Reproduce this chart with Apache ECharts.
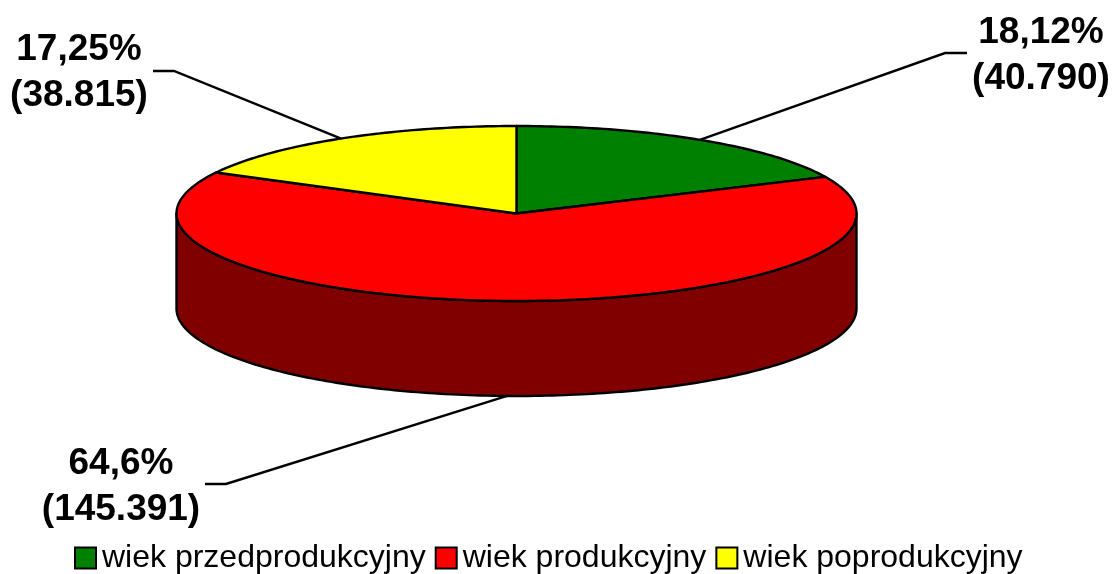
<!DOCTYPE html>
<html>
<head>
<meta charset="utf-8">
<title>wiek</title>
<script src="https://cdn.jsdelivr.net/npm/echarts@6/dist/echarts.min.js"></script>
<style>
  html, body { margin: 0; padding: 0; background: #fff; }
  #chart { width: 1120px; height: 574px; }
</style>
</head>
<body>
<div id="chart"></div>
<script>
// dane
const categories = ['wiek przedprodukcyjny', 'wiek produkcyjny', 'wiek poprodukcyjny'];
const values = [40790, 145391, 38815];
const percentLabels = ['18,12%', '64,6%', '17,25%'];
const countLabels = ['(40.790)', '(145.391)', '(38.815)'];
const colors = ['#008000', '#ff0000', '#ffff00'];
const wallColors = ['#004000', '#800000', '#808000'];

// geometria "3D" - elipsa i wysokosc walca
const cx = 516.5, cy = 213.5, rx = 340, ry = 87.5, depth = 95;
// lamane opisow: kolanko, koniec linii, srodek tekstu
const leaders = [
  { elbow: [945, 53], end: [967, 53], text: [1041, 56] },
  { elbow: [226, 484], end: [205, 484], text: [121, 487] },
  { elbow: [174, 71], end: [153, 71], text: [79, 73] }
];

const total = values.reduce((a, b) => a + b, 0);

// kat liczony od godziny 12, zgodnie z ruchem wskazowek
function rim(deg, dy) {
  const r = deg * Math.PI / 180;
  return [cx + rx * Math.sin(r), cy - ry * Math.cos(r) + (dy || 0)];
}

function arc(from, to, dy) {
  const pts = [];
  const n = Math.max(2, Math.ceil(Math.abs(to - from)));
  for (let i = 0; i <= n; i++) {
    pts.push(rim(from + (to - from) * i / n, dy));
  }
  return pts;
}

function renderSlice(params, api) {
  const i = params.seriesIndex;
  const before = values.slice(0, i).reduce((a, b) => a + b, 0);
  const start = before / total * 360;
  const end = start + api.value(0) / total * 360;
  const mid = (start + end) / 2;
  const children = [];

  // sciana boczna, tylko przednia polowka
  const wStart = Math.max(start, 90), wEnd = Math.min(end, 270);
  if (wEnd > wStart) {
    children.push({
      type: 'polygon',
      shape: { points: arc(wStart, wEnd, 0).concat(arc(wEnd, wStart, depth)) },
      style: { fill: wallColors[i], stroke: '#000', lineWidth: 2.4, lineJoin: 'round' }
    });
  }

  children.push({
    type: 'polygon',
    shape: { points: [[cx, cy]].concat(arc(start, end, 0)) },
    style: { fill: colors[i], stroke: '#000', lineWidth: 2.4, lineJoin: 'round' }
  });

  const isFront = mid > 90 && mid < 270;
  const l = leaders[i];
  children.push({
    type: 'polyline',
    shape: { points: [rim(mid, isFront ? depth : 0), l.elbow, l.end] },
    style: { fill: null, stroke: '#000', lineWidth: 2.4 }
  });

  children.push({
    type: 'text',
    style: {
      x: l.text[0],
      y: l.text[1],
      text: percentLabels[i] + '\n' + countLabels[i],
      fill: '#000',
      font: 'bold 37px "Liberation Sans", Arial, sans-serif',
      lineHeight: 46,
      align: 'center',
      verticalAlign: 'middle'
    }
  });

  return { type: 'group', children: children };
}

const chart = echarts.init(document.getElementById('chart'), null, { renderer: 'canvas' });

chart.setOption({
  animation: false,
  backgroundColor: '#fff',
  legend: {
    data: categories,
    left: 74,
    top: 542,
    orient: 'horizontal',
    icon: 'rect',
    itemWidth: 21,
    itemHeight: 21,
    itemGap: 9,
    padding: 0,
    selectedMode: false,
    itemStyle: { borderColor: '#000', borderWidth: 2 },
    textStyle: {
      color: '#000',
      fontSize: 32,
      fontFamily: '"Liberation Sans", Arial, sans-serif',
      padding: [2, 0, 0, 1]
    }
  },
  series: categories.map((name, i) => ({
    type: 'custom',
    name: name,
    coordinateSystem: 'none',
    itemStyle: { color: colors[i] },
    renderItem: renderSlice,
    data: [[values[i]]]
  }))
});
</script>
</body>
</html>
